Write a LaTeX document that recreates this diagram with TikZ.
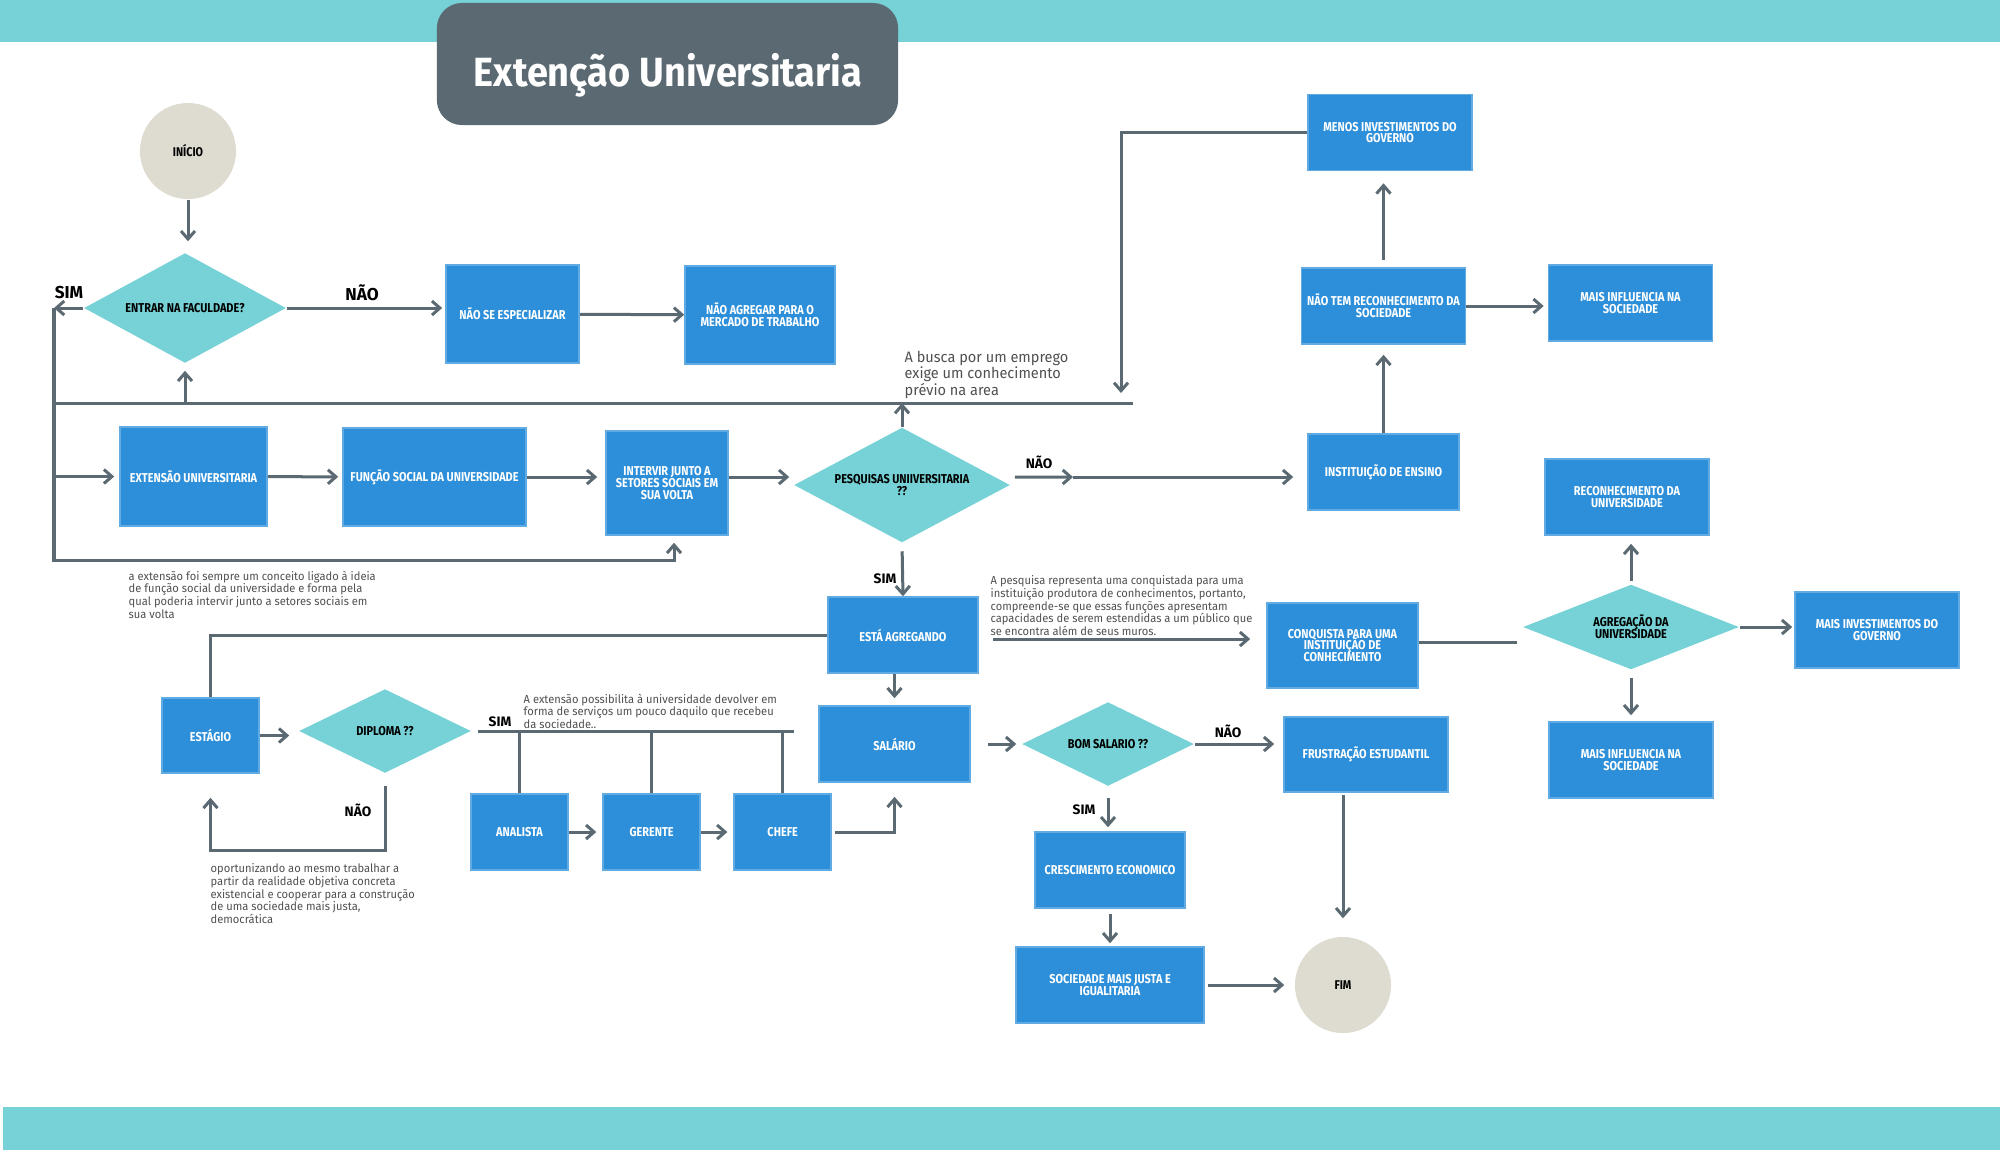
\documentclass[tikz,border=0pt]{standalone}
\usepackage{fontspec}
\setmainfont{Fira Sans}
\newfontfamily\boxfont{Fira Sans}[FakeStretch=0.85]
\newfontfamily\titlefont{Fira Sans}[FakeStretch=0.93]
\newfontfamily\notefont{Fira Sans}[FakeStretch=0.96]
\usetikzlibrary{shapes.geometric}
\usetikzlibrary{arrows.meta}

\definecolor{barteal}{RGB}{118,210,214}
\definecolor{slate}{RGB}{91,106,114}
\definecolor{boxblue}{RGB}{45,143,217}
\definecolor{beige}{RGB}{222,220,209}
\definecolor{notegray}{RGB}{80,80,80}

\begin{document}
\setlength{\lineskiplimit}{-5pt}
\begin{tikzpicture}[x=0.01cm, y=-0.01cm, node distance=1.32cm]
        \tikzstyle{box} = [rectangle, fill=boxblue, draw=boxblue!75!white, line width=0.15mm, text=white, inner sep=0pt, align=center, minimum width=1.64cm, minimum height=0.76cm, font=\boxfont\bfseries\fontsize{3.65}{3.35}\selectfont];
        \tikzstyle{choice} = [diamond, shape aspect=2, fill=barteal, inner sep=0pt, align=center, font=\boxfont\bfseries\fontsize{3.65}{3.5}\selectfont];
        \tikzstyle{term} = [circle, fill=beige, minimum size=0.96cm, inner sep=0pt, font=\boxfont\bfseries\fontsize{3.6}{3.4}\selectfont];
        \tikzstyle{wire} = [draw=slate, line width=0.3mm];
        \tikzstyle{flow} = [wire, -{Straight Barb[length=0.8mm,width=1.4mm]}];
        \tikzstyle{answer} = [inner sep=0pt, font=\bfseries\fontsize{3.9}{4}\selectfont];
        \tikzstyle{bigans} = [inner sep=0pt, font=\bfseries\fontsize{4.9}{5}\selectfont];
        \tikzstyle{note} = [anchor=north west, inner sep=0pt, align=left, text=notegray, font=\notefont\fontsize{3.3}{3.6}\selectfont];

        \useasboundingbox (0,0) rectangle (2000,1150);
        \fill [barteal] (0,0) rectangle (2000,42);
        \fill [barteal] (3,1107) rectangle (2000,1150);
        \node [fill=slate, rounded corners=2.5mm, minimum width=4.61cm, minimum height=1.22cm] (titlebox) at (667.5,64) {};
        \node [anchor=base, text=white, font=\titlefont\bfseries\fontsize{11.6}{12}\selectfont] (title) at (668,86) {Extenção Universitaria};

        % top row
        \node [term] (inicio) at (188,151) {INÍCIO};
        \node [choice, minimum width=2.02cm, minimum height=1.1cm] (entrar) at (185,308) {ENTRAR NA FACULDADE?};
        \node [box, minimum width=1.33cm, minimum height=0.98cm] (nse) at (512.5,314) {NÃO SE ESPECIALIZAR};
        \node [box, minimum width=1.5cm, minimum height=0.98cm] (nag) at (760,315) {NÃO AGREGAR PARA O\\MERCADO DE TRABALHO};
        \node [bigans] (sim1) at (69,293) {SIM};
        \node [bigans] (nao1) at (362,293) {NÃO};

        % second row
        \node [box, minimum width=1.47cm, minimum height=0.99cm] (ext) at (193.5,476.5) {EXTENSÃO UNIVERSITARIA};
        \node [box, minimum width=1.83cm, minimum height=0.98cm] (fun) at (434.5,477) {FUNÇÃO SOCIAL DA UNIVERSIDADE};
        \node [box, minimum width=1.22cm, minimum height=1.04cm] (int) at (667,483) {INTERVIR JUNTO A\\SETORES SOCIAIS EM\\SUA VOLTA};
        \node [choice, minimum width=2.16cm, minimum height=1.15cm] (pesq) at (902,485) {PESQUISAS UNIIVERSITARIA\\??};
        \node [answer] (nao2) at (1039,462) {NÃO};
        \node [answer] (sim2) at (885,579) {SIM};

        % right column
        \node [box] (menos) at (1390,132.5) {MENOS INVESTIMENTOS DO\\GOVERNO};
        \node [box] (naotem) at (1383.5,306) {NÃO TEM RECONHECIMENTO DA\\SOCIEDADE};
        \node [box] (maisinf) at (1630.5,303) {MAIS INFLUENCIA NA\\SOCIEDADE};
        \node [box, minimum width=1.51cm] (inst) at (1383.5,472) {INSTITUIÇÃO DE ENSINO};
        \node [box] (recon) at (1627,497) {RECONHECIMENTO DA\\UNIVERSIDADE};

        % middle
        \node [box, minimum width=1.5cm] (esta) at (903,635) {ESTÁ AGREGANDO};
        \node [box, minimum width=1.51cm, minimum height=0.85cm] (conq) at (1342.5,645.5) {CONQUISTA PARA UMA\\INSTITUIÇÃO DE\\CONHECIMENTO};
        \node [choice, minimum width=2.16cm, minimum height=0.85cm] (agreg) at (1631,627) {AGREGAÇÃO DA\\UNIVERSIDADE};
        \node [box] (maisinv) at (1877,630) {MAIS INVESTIMENTOS DO\\GOVERNO};
        \node [box] (maisinfb) at (1631,760) {MAIS INFLUENCIA NA\\SOCIEDADE};

        % bottom
        \node [box, minimum width=0.97cm, minimum height=0.75cm] (estagio) at (210.5,735.5) {ESTÁGIO};
        \node [choice, minimum width=1.72cm, minimum height=0.84cm] (diploma) at (385,731) {DIPLOMA ??};
        \node [answer] (sim3) at (500,722) {SIM};
        \node [answer] (nao3) at (358,810) {NÃO};
        \node [box, minimum width=0.97cm] (analista) at (519.5,832) {ANALISTA};
        \node [box, minimum width=0.97cm, right of=analista] (gerente) {GERENTE};
        \node [box, minimum width=0.97cm, right of=gerente, node distance=1.31cm] (chefe) {CHEFE};
        \node [box, minimum width=1.51cm] (sal) at (894.5,744) {SALÁRIO};
        \node [choice, minimum width=1.72cm, minimum height=0.84cm] (bom) at (1108,744) {BOM SALARIO ??};
        \node [answer] (nao4) at (1228,731) {NÃO};
        \node [answer] (sim4) at (1084,810) {SIM};
        \node [box, minimum height=0.75cm] (frust) at (1366,754.5) {FRUSTRAÇÃO ESTUDANTIL};
        \node [box, minimum width=1.5cm] (cresc) at (1110,870) {CRESCIMENTO ECONOMICO};
        \node [box, minimum width=1.88cm] (socied) at (1110,985) {SOCIEDADE MAIS JUSTA E\\IGUALITARIA};
        \node [term] (fim) at (1343,985) {FIM};

        % notes
        \node [note, font=\notefont\fontsize{4.3}{4.8}\selectfont] (busca) at (904,350) {A busca por um emprego\\exige um conhecimento\\prévio na area};
        \node [note] (notaext) at (128,570) {a extensão foi sempre um conceito ligado à ideia\\de função social da universidade e forma pela\\qual poderia intervir junto a setores sociais em\\sua volta};
        \node [note] (notapesq) at (990,575) {A pesquisa representa uma conquistada para uma\\instituição produtora de conhecimentos, portanto,\\compreende-se que essas funções apresentam\\capacidades de serem estendidas a um público que\\se encontra além de seus muros.};
        \node [note] (notaserv) at (523,693) {A extensão possibilita à universidade devolver em\\forma de serviços um pouco daquilo que recebeu\\da sociedade..};
        \node [note] (notaop) at (210,863) {oportunizando ao mesmo trabalhar a\\partir da realidade objetiva concreta\\existencial e cooperar para a construção\\de uma sociedade mais justa,\\democrática};

        \coordinate (simL) at (54,308);
        \coordinate (loopB) at (674,560);
        \coordinate (busL) at (54,403);
        \coordinate (busR) at (1133,403);
        \coordinate (busD) at (1121,403);
        \coordinate (pmid) at (1073,477);
        \coordinate (dipSim) at (794,731);
        \coordinate (dipNao) at (300,850);

        % connectors
        \draw [flow, shorten >=1.1mm] (inicio.south) -- (inicio.south |- entrar.north);
        \draw [flow] (entrar.west) -- (simL);
        \draw [flow, shorten >=0.7mm] (simL) |- (loopB) -- (loopB |- int.south);
        \draw [flow, shorten >=0.5mm] (simL |- ext.west) -- (ext.west);
        \draw [wire] (busL) -- (busR);
        \draw [flow, shorten >=0.7mm] (entrar.south |- busL) -- (entrar.south);
        \draw [flow] (pesq.north) -- (pesq.north |- busL);
        \draw [flow, shorten >=1mm] (menos.west) -| (busD);
        \draw [flow, shorten >=0.3mm] (entrar.east) -- (entrar.east -| nse.west);
        \draw [flow] (nse) -- (nag);
        \draw [flow, shorten >=0.4mm] (ext) -- (fun);
        \draw [flow, shorten >=0.8mm] (fun.east) -- (fun.east -| int.west);
        \draw [flow, shorten >=0.4mm] ([yshift=0.6mm]int.east) -- ([yshift=0.6mm]int.east -| pesq.west);
        \draw [flow] ([xshift=0.4mm,yshift=0.8mm]pesq.east) -- (pmid);
        \draw [flow, shorten >=1.4mm] (pmid) -- (pmid -| inst.west);
        \draw [flow, shorten >=1mm] (inst.north) -- (naotem.south);
        \draw [flow, shorten <=0.7mm, shorten >=1.2mm] (naotem.north) -- (naotem.north |- menos.south);
        \draw [flow, shorten >=0.4mm] (naotem.east) -- (naotem.east -| maisinf.west);
        \draw [flow, shorten <=0.8mm] (pesq.south) -- (esta.north);
        \draw [flow, shorten <=1.4mm, shorten >=1.6mm] ([yshift=-0.4mm]esta.east) -- ([yshift=-0.4mm]esta.east -| conq.west);
        \draw [wire, shorten >=0.5mm] ([yshift=0.35mm]conq.east) -- ([yshift=0.35mm]conq.east -| agreg.west);
        \draw [flow, shorten <=0.3mm, shorten >=0.8mm] (agreg.north) -- (agreg.north |- recon.south);
        \draw [flow, shorten >=0.2mm] (agreg.east) -- (agreg.east -| maisinv.west);
        \draw [flow, shorten <=0.8mm, shorten >=0.6mm] (agreg.south) -- (agreg.south |- maisinfb.north);
        \draw [flow, shorten >=0.7mm] (sal.north |- esta.south) -- (sal.north);
        \draw [flow, shorten <=1.7mm, shorten >=0.5mm] (sal.east) -- (bom.west);
        \draw [flow, shorten >=0.9mm] (bom.east) -- (bom.east -| frust.west);
        \draw [flow, shorten <=1.1mm, shorten >=0.4mm] (bom.south) -- (bom.south |- cresc.north);
        \draw [flow, shorten <=0.5mm, shorten >=0.3mm] (cresc.south) -- (cresc.south |- socied.north);
        \draw [flow, shorten <=0.3mm, shorten >=1mm] (socied.east) -- (fim.west);
        \draw [flow, shorten <=0.2mm, shorten >=1.8mm] (fim |- frust.south) -- (fim.north);
        \draw [wire] (esta.west) -| (estagio.north);
        \draw [flow, shorten >=0.9mm] (estagio.east) -- (estagio.east -| diploma.west);
        \draw [flow, shorten <=1.2mm, shorten >=2.4mm] (diploma.south) |- (dipNao) -| (estagio.south);
        \draw [wire, shorten <=0.6mm] (diploma.east) -- (dipSim);
        \foreach \n in {analista, gerente, chefe}
            \draw [wire] (\n.north |- dipSim) -- (\n.north);
        \draw [flow, shorten >=0.6mm] (analista) -- (gerente);
        \draw [flow, shorten >=0.6mm] (gerente) -- (chefe);
        \draw [flow, shorten <=0.3mm, shorten >=1.4mm] (chefe.east) -| (sal.south);
\end{tikzpicture}
\end{document}
